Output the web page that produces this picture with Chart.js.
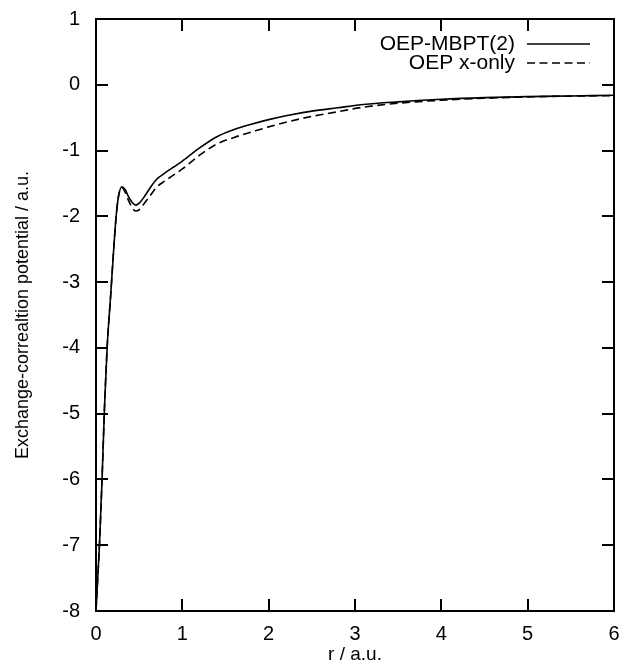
<!DOCTYPE html>
<html>
<head>
<meta charset="utf-8">
<script src="https://cdn.jsdelivr.net/npm/chart.js@4.4.1/dist/chart.umd.min.js"></script>
<style>
  html, body { margin: 0; padding: 0; background: #fff; }
  #wrap { width: 621px; height: 660px; }
</style>
</head>
<body>
<div id="wrap"><canvas id="xcChart" width="621" height="660"></canvas></div>
<script>
const radius = [0, 0.02, 0.04, 0.07, 0.1, 0.13, 0.17, 0.2, 0.23, 0.26, 0.3, 0.34, 0.38, 0.42, 0.46, 0.5, 0.55, 0.62, 0.7, 0.8, 0.9, 1.0, 1.2, 1.4, 1.6, 1.8, 2.0, 2.2, 2.5, 2.8, 3.1, 3.5, 4.0, 4.5, 5.0, 5.5, 6.0];
const mbpt2 = [-8, -7.5, -7.0, -6.0, -4.85, -3.97, -3.2, -2.6, -2.05, -1.7, -1.55, -1.6, -1.71, -1.79, -1.83, -1.8, -1.72, -1.58, -1.44, -1.34, -1.25, -1.16, -0.96, -0.79, -0.68, -0.6, -0.53, -0.47, -0.4, -0.35, -0.3, -0.26, -0.22, -0.195, -0.18, -0.17, -0.16];
const xOnly = [-8, -7.5, -7.0, -6.0, -4.85, -3.97, -3.2, -2.6, -2.05, -1.7, -1.56, -1.64, -1.77, -1.87, -1.92, -1.9, -1.82, -1.7, -1.56, -1.46, -1.37, -1.28, -1.07, -0.9, -0.8, -0.72, -0.64, -0.57, -0.48, -0.41, -0.34, -0.28, -0.235, -0.205, -0.185, -0.172, -0.165];
const xTicks = [0, 1, 2, 3, 4, 5, 6];
const yTicks = [1, 0, -1, -2, -3, -4, -5, -6, -7, -8];
const seriesNames = ["OEP-MBPT(2)", "OEP x-only"];

const FONT = "'Liberation Sans', Arial, Helvetica, sans-serif";

function toPoints(ys) {
  return radius.map((r, i) => ({ x: r, y: ys[i] }));
}

// frame, inward ticks on all four sides, and the key in the corner
const framePlugin = {
  id: "frame",
  afterDatasetsDraw(chart) {
    const ctx = chart.ctx;
    const a = chart.chartArea;
    const xs = chart.scales.x;
    const ys = chart.scales.y;
    const tick = 12;
    ctx.save();
    ctx.strokeStyle = "#000";
    ctx.lineWidth = 2;
    ctx.strokeRect(a.left, a.top, a.right - a.left, a.bottom - a.top);
    ctx.beginPath();
    xTicks.forEach((v) => {
      const px = Math.round(xs.getPixelForValue(v));
      ctx.moveTo(px, a.bottom);
      ctx.lineTo(px, a.bottom - tick);
      ctx.moveTo(px, a.top);
      ctx.lineTo(px, a.top + tick);
    });
    yTicks.forEach((v) => {
      const py = Math.round(ys.getPixelForValue(v));
      ctx.moveTo(a.left, py);
      ctx.lineTo(a.left + tick, py);
      ctx.moveTo(a.right, py);
      ctx.lineTo(a.right - tick, py);
    });
    ctx.stroke();

    // key
    ctx.font = "21px " + FONT;
    ctx.fillStyle = "#000";
    ctx.textAlign = "right";
    ctx.textBaseline = "middle";
    const rows = [44, 63];
    chart.data.datasets.forEach((ds, i) => {
      ctx.fillText(seriesNames[i], 515, rows[i]);
      ctx.beginPath();
      ctx.lineWidth = 1.5;
      ctx.setLineDash(ds.borderDash || []);
      ctx.moveTo(527, rows[i]);
      ctx.lineTo(590, rows[i]);
      ctx.stroke();
    });
    ctx.restore();
  },
};

new Chart(document.getElementById("xcChart"), {
  type: "line",
  data: {
    datasets: [
      {
        label: seriesNames[0],
        data: toPoints(mbpt2),
        borderColor: "#000",
        borderWidth: 1.6,
        pointRadius: 0,
        cubicInterpolationMode: "monotone",
      },
      {
        label: seriesNames[1],
        data: toPoints(xOnly),
        borderColor: "#000",
        borderWidth: 1.6,
        borderDash: [8, 4.5],
        pointRadius: 0,
        cubicInterpolationMode: "monotone",
      },
    ],
  },
  options: {
    responsive: false,
    animation: false,
    layout: { padding: { top: 19, right: 7, left: 0, bottom: 0 } },
    plugins: { legend: { display: false }, tooltip: { enabled: false } },
    scales: {
      x: {
        type: "linear",
        min: 0,
        max: 6,
        afterBuildTicks: (s) => { s.ticks = xTicks.map((v) => ({ value: v })); },
        afterFit: (s) => { s.height = 49; s.paddingLeft = 0; s.paddingRight = 0; },
        grid: { display: false },
        border: { display: false },
        ticks: { color: "#000", font: { family: FONT, size: 20 }, padding: 3, maxRotation: 0 },
        title: { display: true, text: "r / a.u.", color: "#000", font: { family: FONT, size: 19, lineHeight: 0.8 }, padding: { top: 0, bottom: -2 } },
      },
      y: {
        type: "linear",
        min: -8,
        max: 1,
        afterBuildTicks: (s) => { s.ticks = yTicks.map((v) => ({ value: v })); },
        afterFit: (s) => { s.width = 96; s.paddingTop = 0; s.paddingBottom = 0; },
        grid: { display: false },
        border: { display: false },
        ticks: { color: "#000", font: { family: FONT, size: 20 }, padding: 8 },
        title: { display: true, text: "Exchange-correaltion potential / a.u.", color: "#000", font: { family: FONT, size: 18 }, padding: { top: 12, bottom: 0 } },
      },
    },
  },
  plugins: [framePlugin],
});
</script>
</body>
</html>
